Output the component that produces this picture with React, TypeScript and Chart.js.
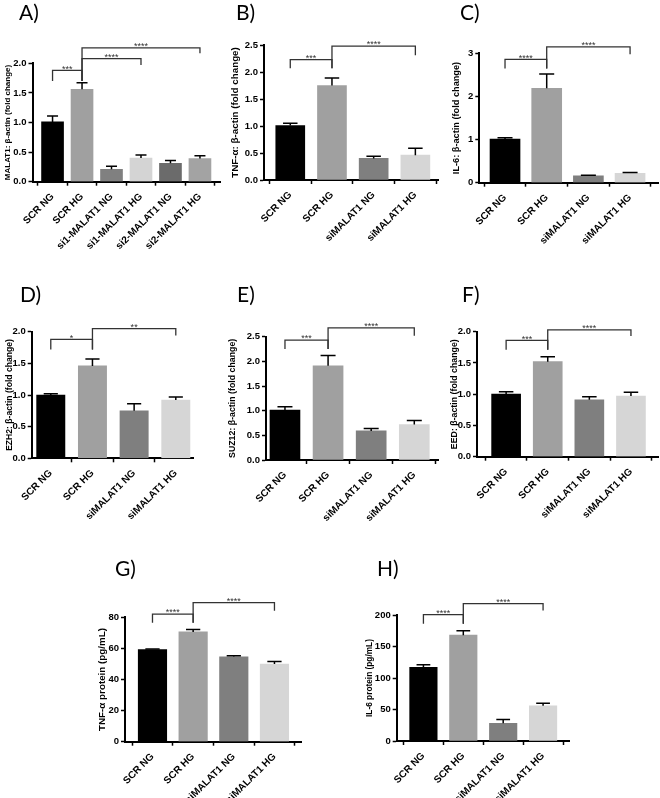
import React, { useEffect, useRef } from "react";
import { Chart, registerables } from "chart.js";

Chart.register(...registerables);

// ---------- categories ----------
const CATS_A = ["SCR NG", "SCR HG", "si1-MALAT1 NG", "si1-MALAT1 HG", "si2-MALAT1 NG", "si2-MALAT1 HG"];
const CATS = ["SCR NG", "SCR HG", "siMALAT1 NG", "siMALAT1 HG"];

// ---------- series values (mean, SEM) ----------
const MALAT1_MEAN = [1.01, 1.56, 0.21, 0.4, 0.31, 0.39];
const MALAT1_SEM = [0.1, 0.11, 0.05, 0.05, 0.05, 0.05];
const TNF_MRNA_MEAN = [1.01, 1.75, 0.4, 0.46];
const TNF_MRNA_SEM = [0.04, 0.14, 0.04, 0.13];
const IL6_MRNA_MEAN = [1.01, 2.19, 0.16, 0.22];
const IL6_MRNA_SEM = [0.03, 0.33, 0.015, 0.015];
const EZH2_MEAN = [1.0, 1.46, 0.75, 0.92];
const EZH2_SEM = [0.02, 0.11, 0.11, 0.05];
const SUZ12_MEAN = [1.01, 1.91, 0.59, 0.72];
const SUZ12_SEM = [0.07, 0.21, 0.05, 0.08];
const EED_MEAN = [1.0, 1.52, 0.91, 0.97];
const EED_SEM = [0.04, 0.08, 0.05, 0.06];
const TNF_PROT_MEAN = [59.3, 70.6, 54.6, 49.9];
const TNF_PROT_SEM = [0.3, 1.5, 0.7, 1.7];
const IL6_PROT_MEAN = [117, 168, 28, 56];
const IL6_PROT_SEM = [4, 7, 6, 4];

// ---------- significance brackets: [from, to, line value, left leg end, right leg end, label] ----------
type Bracket = [number, number, number, number, number, string];
const SIG_A: Bracket[] = [
  [0, 1, 1.88, 1.7, 1.7, "***"],
  [1, 3, 2.08, 1.7, 1.97, "****"],
  [1, 5, 2.26, 1.7, 2.17, "****"],
];
const SIG_B: Bracket[] = [
  [0, 1, 2.23, 2.07, 2.07, "***"],
  [1, 3, 2.48, 2.07, 2.31, "****"],
];
const SIG_C: Bracket[] = [
  [0, 1, 2.86, 2.65, 2.65, "****"],
  [1, 3, 3.15, 2.65, 2.98, "****"],
];
const SIG_D: Bracket[] = [
  [0, 1, 1.88, 1.72, 1.72, "*"],
  [1, 3, 2.05, 1.72, 1.94, "**"],
];
const SIG_E: Bracket[] = [
  [0, 1, 2.43, 2.25, 2.25, "***"],
  [1, 3, 2.68, 2.25, 2.52, "****"],
];
const SIG_F: Bracket[] = [
  [0, 1, 1.86, 1.71, 1.71, "***"],
  [1, 3, 2.03, 1.71, 1.93, "****"],
];
const SIG_G: Bracket[] = [
  [0, 1, 82.1, 76.5, 76.5, "****"],
  [1, 3, 89.4, 76.5, 84.2, "****"],
];
const SIG_H: Bracket[] = [
  [0, 1, 200.5, 186, 186, "****"],
  [1, 3, 218, 186, 207, "****"],
];

// ---------- colours ----------
const COLORS_A = ["#000000", "#a0a0a0", "#808080", "#d4d4d4", "#6b6b6b", "#a3a3a3"];
const COLORS = ["#000000", "#a0a0a0", "#7f7f7f", "#d6d6d6"];

const FONT = "'Liberation Sans', Arial, Helvetica, sans-serif";

type PanelCfg = {
  letter: string;
  lx: number; lb: number;
  l: number; t: number; w: number; h: number;
  x0: number; x1: number; yT: number; yB: number;
  xMin: number; xMax: number; bar: number;
  yMax: number; step: number; dec: number;
  title: string; titleSize: number; titleX: number;
  cats: string[]; mean: number[]; sem: number[]; colors: string[]; sig: Bracket[];
};

const PANELS: PanelCfg[] = [
  { letter: "A)", lx: 19, lb: 20, l: 0, t: 0, w: 222, h: 265, x0: 32.5, x1: 220, yT: 63.3, yB: 181.7,
    xMin: -0.68, xMax: 5.68, bar: 22, yMax: 2, step: 0.5, dec: 1,
    title: "MALAT1: β-actin (fold change)", titleSize: 8, titleX: 7.5,
    cats: CATS_A, mean: MALAT1_MEAN, sem: MALAT1_SEM, colors: COLORS_A, sig: SIG_A },
  { letter: "B)", lx: 236, lb: 20, l: 225, t: 0, w: 218, h: 265, x0: 264, x1: 438.3, yT: 45, yB: 180,
    xMin: -0.63, xMax: 3.55, bar: 29, yMax: 2.5, step: 0.5, dec: 1,
    title: "TNF-α: β-actin (fold change)", titleSize: 9.8, titleX: 235,
    cats: CATS, mean: TNF_MRNA_MEAN, sem: TNF_MRNA_SEM, colors: COLORS, sig: SIG_B },
  { letter: "C)", lx: 460, lb: 20, l: 445, t: 0, w: 215, h: 265, x0: 479.3, x1: 658, yT: 53.3, yB: 182.7,
    xMin: -0.617, xMax: 3.67, bar: 30, yMax: 3, step: 1, dec: 0,
    title: "IL-6: β-actin (fold change)", titleSize: 9.2, titleX: 456.5,
    cats: CATS, mean: IL6_MRNA_MEAN, sem: IL6_MRNA_SEM, colors: COLORS, sig: SIG_C },
  { letter: "D)", lx: 20, lb: 302, l: 0, t: 275, w: 222, h: 265, x0: 31.7, x1: 193.3, yT: 331.7, yB: 458.3,
    xMin: -0.458, xMax: 3.42, bar: 28.3, yMax: 2, step: 0.5, dec: 1,
    title: "EZH2: β-actin (fold change)", titleSize: 8.6, titleX: 10,
    cats: CATS, mean: EZH2_MEAN, sem: EZH2_SEM, colors: COLORS, sig: SIG_D },
  { letter: "E)", lx: 237, lb: 302, l: 225, t: 275, w: 218, h: 265, x0: 266, x1: 438, yT: 336.7, yB: 460,
    xMin: -0.44, xMax: 3.55, bar: 30, yMax: 2.5, step: 0.5, dec: 1,
    title: "SUZ12: β-actin (fold change)", titleSize: 8.8, titleX: 233,
    cats: CATS, mean: SUZ12_MEAN, sem: SUZ12_SEM, colors: COLORS, sig: SIG_E },
  { letter: "F)", lx: 462, lb: 302, l: 445, t: 275, w: 215, h: 265, x0: 477, x1: 658, yT: 331.7, yB: 456.7,
    xMin: -0.7, xMax: 3.65, bar: 29, yMax: 2, step: 0.5, dec: 1,
    title: "EED: β-actin (fold change)", titleSize: 8.8, titleX: 455,
    cats: CATS, mean: EED_MEAN, sem: EED_SEM, colors: COLORS, sig: SIG_F },
  { letter: "G)", lx: 115, lb: 576, l: 60, t: 545, w: 250, h: 253, x0: 125, x1: 301.7, yT: 617.3, yB: 741.7,
    xMin: -0.676, xMax: 3.67, bar: 28.5, yMax: 80, step: 20, dec: 0,
    title: "TNF-α protein (pg/mL)", titleSize: 9.8, titleX: 102.7,
    cats: CATS, mean: TNF_PROT_MEAN, sem: TNF_PROT_SEM, colors: COLORS, sig: SIG_G },
  { letter: "H)", lx: 377, lb: 576, l: 340, t: 545, w: 240, h: 253, x0: 396.7, x1: 569, yT: 615, yB: 741,
    xMin: -0.67, xMax: 3.65, bar: 27.5, yMax: 200, step: 50, dec: 0,
    title: "IL-6 protein (pg/mL)", titleSize: 8.3, titleX: 369.3,
    cats: CATS, mean: IL6_PROT_MEAN, sem: IL6_PROT_SEM, colors: COLORS, sig: SIG_H },
];

function makeAnnotPlugin(p: PanelCfg) {
  return {
    id: "annot",
    afterDatasetsDraw(chart: any) {
      const ctx: CanvasRenderingContext2D = chart.ctx;
      const xs = chart.scales.x;
      const ys = chart.scales.y;
      ctx.save();
      // error bars
      ctx.strokeStyle = "#000";
      ctx.lineWidth = 1.5;
      p.mean.forEach((m, i) => {
        const x = xs.getPixelForValue(i);
        const yb = ys.getPixelForValue(m);
        const yt = ys.getPixelForValue(m + p.sem[i]);
        const cw = p.bar * 0.5;
        ctx.beginPath();
        ctx.moveTo(x, yb);
        ctx.lineTo(x, yt);
        ctx.moveTo(x - cw / 2, yt);
        ctx.lineTo(x + cw / 2, yt);
        ctx.stroke();
      });
      // significance brackets
      ctx.strokeStyle = "#333";
      ctx.lineWidth = 1.3;
      ctx.fillStyle = "#333";
      ctx.font = `9px ${FONT}`;
      ctx.textAlign = "center";
      ctx.textBaseline = "alphabetic";
      p.sig.forEach(([a, b, lv, la, lb, label]) => {
        const xa = xs.getPixelForValue(a);
        const xb = xs.getPixelForValue(b);
        const yl = ys.getPixelForValue(lv);
        const ya = ys.getPixelForValue(la);
        const yb = ys.getPixelForValue(lb);
        ctx.beginPath();
        ctx.moveTo(xa, ya);
        ctx.lineTo(xa, yl);
        ctx.lineTo(xb, yl);
        ctx.lineTo(xb, yb);
        ctx.stroke();
        ctx.fillText(label, (xa + xb) / 2, yl + 1.3);
      });
      // panel letter
      ctx.fillStyle = "#000";
      ctx.font = `21px Lato, 'Open Sans', sans-serif`;
      ctx.textAlign = "left";
      ctx.fillText(p.letter, p.lx - p.l, p.lb - p.t);
      ctx.restore();
    },
  };
}

function Panel({ p }: { p: PanelCfg }) {
  const ref = useRef<HTMLCanvasElement>(null);
  useEffect(() => {
    if (!ref.current) return;
    const yTickFont = { family: FONT, size: 9.5, weight: "bold" as const };
    const xTickFont = { family: FONT, size: 10, weight: "bold" as const };
    const chart = new Chart(ref.current, {
      type: "bar",
      data: {
        datasets: [
          {
            data: p.mean.map((v, i) => ({ x: i, y: v })),
            backgroundColor: p.colors,
            borderWidth: 0,
            barThickness: p.bar,
          } as any,
        ],
      },
      options: {
        animation: false,
        responsive: false,
        devicePixelRatio: 1,
        layout: { padding: { left: 0, top: p.yT - p.t, right: p.l + p.w - p.x1, bottom: 0 } },
        plugins: { legend: { display: false }, tooltip: { enabled: false } },
        scales: {
          x: {
            type: "linear",
            min: p.xMin,
            max: p.xMax,
            offset: false,
            grid: { display: true, drawOnChartArea: false, drawTicks: true, tickLength: 4, tickWidth: 1.5, tickColor: "#000" },
            border: { display: true, width: 2, color: "#000" },
            ticks: {
              stepSize: 1,
              includeBounds: false,
              autoSkip: false,
              maxRotation: 45,
              minRotation: 45,
              padding: 5,
              color: "#000",
              font: xTickFont,
              callback: (v: any) => {
                const n = Math.round(Number(v));
                return Math.abs(n - Number(v)) < 1e-6 && p.cats[n] !== undefined ? p.cats[n] : "";
              },
            },
            afterFit: (s: any) => {
              s.height = p.t + p.h - p.yB;
              s.paddingLeft = 0;
              s.paddingRight = 0;
            },
          } as any,
          y: {
            type: "linear",
            min: 0,
            max: p.yMax,
            grid: { display: true, drawOnChartArea: false, drawTicks: true, tickLength: 4, tickWidth: 1.5, tickColor: "#000" },
            border: { display: true, width: 2, color: "#000" },
            ticks: {
              stepSize: p.step,
              padding: 2,
              color: "#000",
              font: yTickFont,
              callback: (v: any) => Number(v).toFixed(p.dec),
            },
            title: {
              display: true,
              text: p.title,
              color: "#000",
              font: { family: FONT, size: p.titleSize, weight: "bold" },
              padding: { top: p.titleX - p.l - p.titleSize * 0.6, bottom: 0 },
            },
            afterFit: (s: any) => {
              s.width = p.x0 - p.l;
              s.paddingTop = 0;
              s.paddingBottom = 0;
            },
          } as any,
        },
      },
      plugins: [makeAnnotPlugin(p)],
    });
    return () => chart.destroy();
  }, []);
  return (
    <canvas
      ref={ref}
      width={p.w}
      height={p.h}
      style={{ position: "absolute", left: p.l, top: p.t, width: p.w, height: p.h }}
    />
  );
}

export default function App() {
  return (
    <div style={{ position: "absolute", left: 0, top: 0, width: 660, height: 798, background: "#fff" }}>
      {PANELS.map((p) => (
        <Panel key={p.letter} p={p} />
      ))}
    </div>
  );
}
